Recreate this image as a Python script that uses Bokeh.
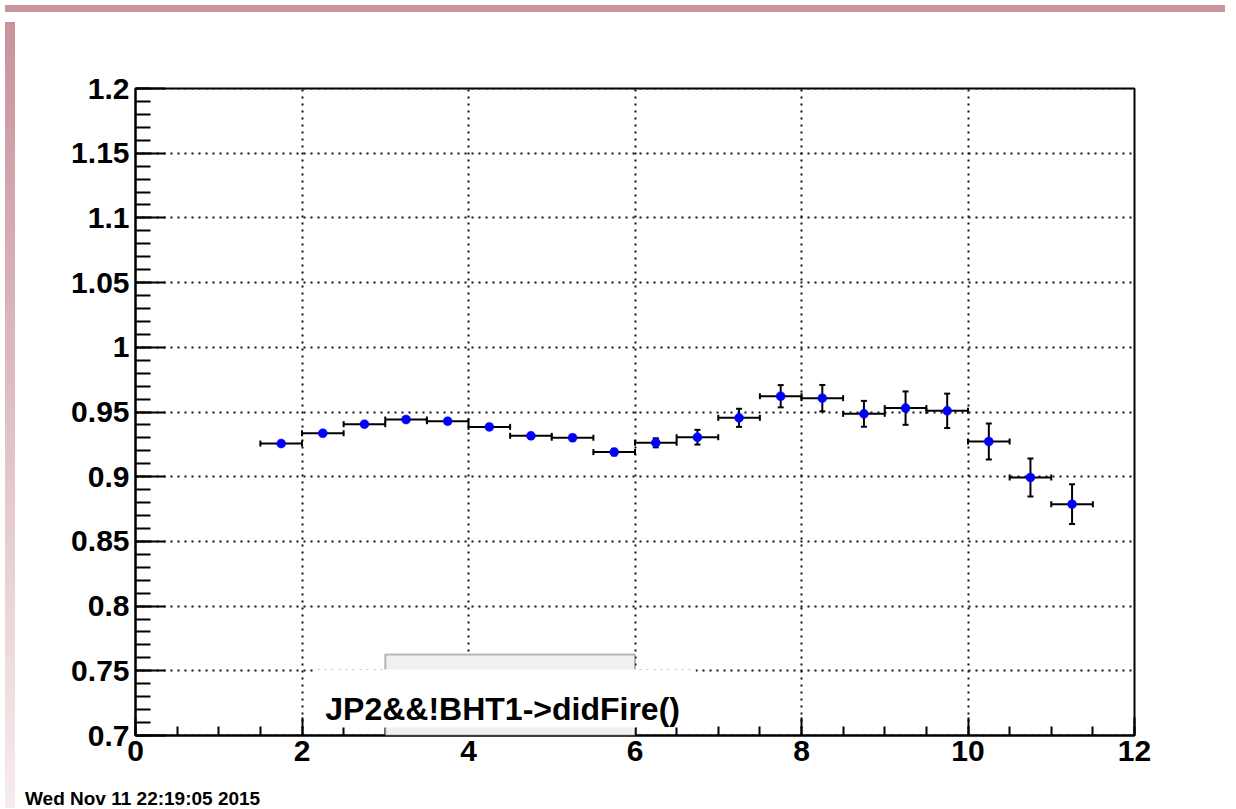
from bokeh.plotting import figure
from bokeh.models import (Range1d, SingleIntervalTicker, CustomJSTickFormatter, Whisker,
                          TeeHead, ColumnDataSource, BoxAnnotation, Label, Div)
from bokeh.layouts import column, row
from bokeh.embed import file_html
from bokeh.resources import INLINE

# ---- data ----
bin_center = [1.75, 2.25, 2.75, 3.25, 3.75, 4.25, 4.75, 5.25, 5.75, 6.25,
              6.75, 7.25, 7.75, 8.25, 8.75, 9.25, 9.75, 10.25, 10.75, 11.25]
bin_half_width = [0.25, 0.25, 0.25, 0.25, 0.25, 0.25, 0.25, 0.25, 0.25, 0.25,
                  0.25, 0.25, 0.25, 0.25, 0.25, 0.25, 0.25, 0.25, 0.25, 0.25]
ratio = [0.9256, 0.9336, 0.9406, 0.9442, 0.9429, 0.9385, 0.9316, 0.9301, 0.9190, 0.9262,
         0.9305, 0.9455, 0.9622, 0.9607, 0.9486, 0.9530, 0.9509, 0.9272, 0.8994, 0.8788]
ratio_err = [0.0015, 0.0015, 0.0017, 0.0018, 0.0019, 0.0020, 0.0020, 0.0022, 0.0025, 0.0035,
             0.0057, 0.0070, 0.0086, 0.0102, 0.0100, 0.0129, 0.0133, 0.0139, 0.0147, 0.0153]
x_range = [0, 12]
y_range = [0.7, 1.2]
title_text = "JP2&&!BHT1->didFire()"
timestamp_text = "Wed Nov 11 22:19:05 2015"

FONT = "Liberation Sans"

src = ColumnDataSource(dict(
    x=bin_center,
    y=ratio,
    xlo=[c - h for c, h in zip(bin_center, bin_half_width)],
    xhi=[c + h for c, h in zip(bin_center, bin_half_width)],
    ylo=[v - e for v, e in zip(ratio, ratio_err)],
    yhi=[v + e for v, e in zip(ratio, ratio_err)],
))

p = figure(width=1210, height=768, output_backend="svg", toolbar_location=None,
           x_range=Range1d(x_range[0], x_range[1]),
           y_range=Range1d(y_range[0], y_range[1] + 1e-9),
           min_border_left=115, min_border_right=96, min_border_top=71, min_border_bottom=50)
p.background_fill_color = "white"
p.border_fill_color = "white"
p.outline_line_color = "black"
p.outline_line_width = 2

xt = SingleIntervalTicker(interval=2, num_minor_ticks=4)
yt = SingleIntervalTicker(interval=0.05, num_minor_ticks=5)
p.xaxis.ticker = xt
p.yaxis.ticker = yt
p.xgrid.ticker = xt
p.ygrid.ticker = yt

fmt = CustomJSTickFormatter(code="return String(parseFloat(tick.toFixed(4)));")
p.yaxis.formatter = fmt
p.xaxis.formatter = fmt

for ax in (p.xaxis[0], p.yaxis[0]):
    ax.axis_line_color = "black"
    ax.axis_line_width = 2
    ax.major_tick_line_color = "black"
    ax.minor_tick_line_color = "black"
    ax.major_tick_line_width = 2
    ax.minor_tick_line_width = 2
    ax.major_tick_out = 0
    ax.minor_tick_out = 0
    ax.major_label_text_font = FONT
    ax.major_label_text_font_style = "bold"
    ax.major_label_text_font_size = "30px"
    ax.major_label_text_color = "black"

p.yaxis.major_tick_in = 30
p.yaxis.minor_tick_in = 15
p.yaxis.major_label_standoff = 6
p.xaxis.major_tick_in = 18
p.xaxis.minor_tick_in = 9
p.xaxis.major_label_standoff = 5

for g in (p.xgrid[0], p.ygrid[0]):
    g.grid_line_color = "#111111"
    g.grid_line_width = 2
    g.grid_line_dash = "2 5"

# error bars
p.add_layout(Whisker(source=src, base="y", lower="xlo", upper="xhi", dimension="width",
                     line_color="black", line_width=2,
                     lower_head=TeeHead(size=6, line_width=2, line_color="black"),
                     upper_head=TeeHead(size=6, line_width=2, line_color="black")))
p.add_layout(Whisker(source=src, base="x", lower="ylo", upper="yhi", dimension="height",
                     line_color="black", line_width=2,
                     lower_head=TeeHead(size=6, line_width=2, line_color="black"),
                     upper_head=TeeHead(size=6, line_width=2, line_color="black")))

p.scatter("x", "y", source=src, size=9, fill_color="#0000ff", line_color="#0000ff", line_width=0.5)

# ROOT-style title pave
p.add_layout(BoxAnnotation(left=3.0, right=6.0, bottom=0.7, top=0.7626,
                           fill_color="#f0f0f0", fill_alpha=1.0,
                           line_color="#222222", line_width=2))
p.add_layout(BoxAnnotation(left=2.14, right=6.73, bottom=0.7062, top=0.751,
                           fill_color="white", fill_alpha=1.0, line_alpha=0))
p.add_layout(Label(x=4.41, y=0.7201, text=title_text, text_align="center",
                   text_baseline="alphabetic", text_font=FONT, text_font_style="bold",
                   text_font_size="32px", text_color="black"))

# timestamp below the canvas
stamp = Div(text=timestamp_text, width=1210, height=18,
            styles={"font-family": FONT, "font-weight": "bold", "font-size": "19px",
                    "line-height": "18px", "color": "black", "padding-left": "0px",
                    "background": "white", "white-space": "nowrap"})

top_band = Div(text="", width=1220, height=7, styles={"background": "#c9949b"})
left_band = Div(text="", width=10, height=786,
                styles={"background": "linear-gradient(to bottom, #c9939b, #f6eced)"})
layout = column(top_band, row(left_band, column(p, stamp, spacing=0), spacing=0), spacing=0)

open("out.html", "w").write(file_html(layout, INLINE))
